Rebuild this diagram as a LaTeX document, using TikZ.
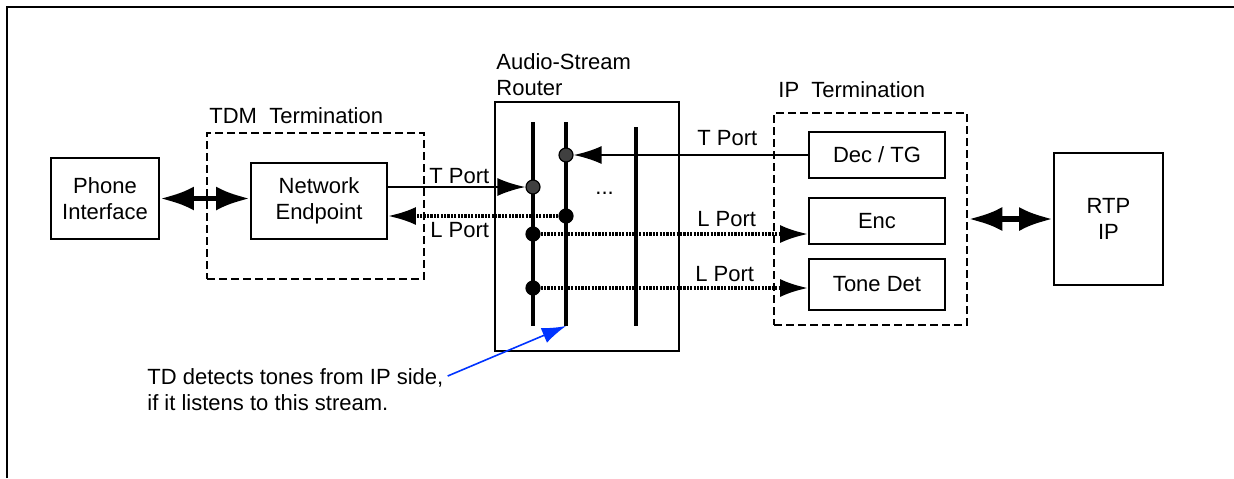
\documentclass[tikz,border=0pt]{standalone}
\usepackage{fontspec}
\setmainfont{Liberation Sans}
\usetikzlibrary{arrows.meta, calc, positioning}
\definecolor{puntoGris}{RGB}{64,64,64}
\definecolor{notaAzul}{RGB}{0,51,255}

\tikzset{
  caja/.style={draw, line width=0.9pt, inner sep=0pt, align=center},
  bloque/.style={draw, line width=1.3pt, dash pattern=on 4pt off 2pt, inner sep=0pt},
  barra/.style={line width=1.6pt},
  punto/.style={circle, draw, line width=0.6pt, inner sep=0pt, minimum size=7pt},
  flecha/.style={line width=1.2pt, -{Latex[length=14pt, width=9pt]}},
  punteada/.style={line width=1.6pt, dash pattern=on 1.1pt off 0.6pt},
  dobleFlecha/.style={line width=2.8pt, {Latex[length=17pt, width=12pt]}-{Latex[length=17pt, width=12pt]}},
  etiqueta/.style={anchor=base west, inner sep=0pt},
}

\begin{document}
\begin{tikzpicture}[x=0.5pt, y=-0.5pt, font=\fontsize{11}{13}\selectfont]
  \useasboundingbox (0,0) rectangle (1234,478);
  % MARCO
  \draw[line width=1.4pt] (7,478) -- (7,7) -- (1234,7);

  % TERMINACION TDM
  \node[bloque, minimum width=108.5pt, minimum height=73pt] (tdmTerm) at (315.5,206) {};
  \node[etiqueta] (tdmLabel) at (209,123) {TDM\ \ Termination};
  \node[caja, minimum width=54pt, minimum height=40.5pt] (phone) at (105,198.5) {Phone\\Interface};
  \node[caja, minimum width=68pt, minimum height=38pt] (netEnd) at (319,201) {Network\\Endpoint};

  % ROUTER
  \node[caja, minimum width=92pt, minimum height=124.5pt] (router) at (587,226.5) {};
  \node[etiqueta, align=left] (routerLabel) at (496,95) {Audio-Stream\\Router};
  % Barras
  \draw[barra] (533,122) -- (533,326);
  \draw[barra] (566,122) coordinate (b2top) -- (566,326) coordinate (b2bot);
  \draw[barra] (636,127) -- (636,326);
  \node[etiqueta] (dots) at (595,194) {...};
  % Puntos de conexion
  \node[punto, fill=puntoGris] (tIn) at (533,187) {};
  \node[punto, fill=puntoGris] (tOut) at (566,155) {};
  \node[punto, fill=black] (lNet) at (566,216) {};
  \node[punto, fill=black] (lEnc) at (533,234) {};
  \node[punto, fill=black] (lTone) at (533,288) {};

  % TERMINACION IP
  \node[bloque, minimum width=96.5pt, minimum height=106pt] (ipTerm) at (870.5,219) {};
  \node[etiqueta] (ipLabel) at (778,97) {IP\ \ Termination};
  \node[caja, minimum width=68pt, minimum height=23pt] (decTG) at (877,155) {Dec / TG};
  \node[caja, minimum width=68pt, minimum height=23pt] (enc) at (877,221) {Enc};
  \node[caja, minimum width=68pt, minimum height=25.5pt] (toneDet) at (877,284.5) {Tone Det};
  \node[caja, minimum width=54.5pt, minimum height=66pt] (rtp) at (1108.5,219) {RTP\\IP};

  % CONEXIONES
  \draw[dobleFlecha] (phone.east) -- (phone.east -| netEnd.west);
  \draw[dobleFlecha] (ipTerm.east) -- (rtp.west);
  \draw[flecha] (tIn -| netEnd.east) -- (tIn);
  \draw[flecha, punteada] (lNet) -- (lNet -| netEnd.east);
  \draw[flecha] (decTG.west) -- (tOut);
  \draw[flecha, punteada] (lEnc) -- (lEnc -| enc.west);
  \draw[flecha, punteada] (lTone) -- (lTone -| toneDet.west);

  % Etiquetas de puertos
  \node[etiqueta] (tPortA) at (429,183) {T Port};
  \node[etiqueta] (lPortA) at (430,237) {L Port};
  \node[etiqueta] (tPortB) at (697,145) {T Port};
  \node[etiqueta] (lPortB) at (697,226) {L Port};
  \node[etiqueta] (lPortC) at (695,281) {L Port};

  % NOTA
  \node[anchor=north west, inner sep=0pt, align=left] (note) at (147,368)
    {TD detects tones from IP side,\\if it listens to this stream.};
  \draw[line width=0.8pt, notaAzul, -{Latex[length=12pt, width=8pt]}]
    ([shift={(2pt,-4pt)}]note.north east) -- (b2bot);
\end{tikzpicture}
\end{document}
